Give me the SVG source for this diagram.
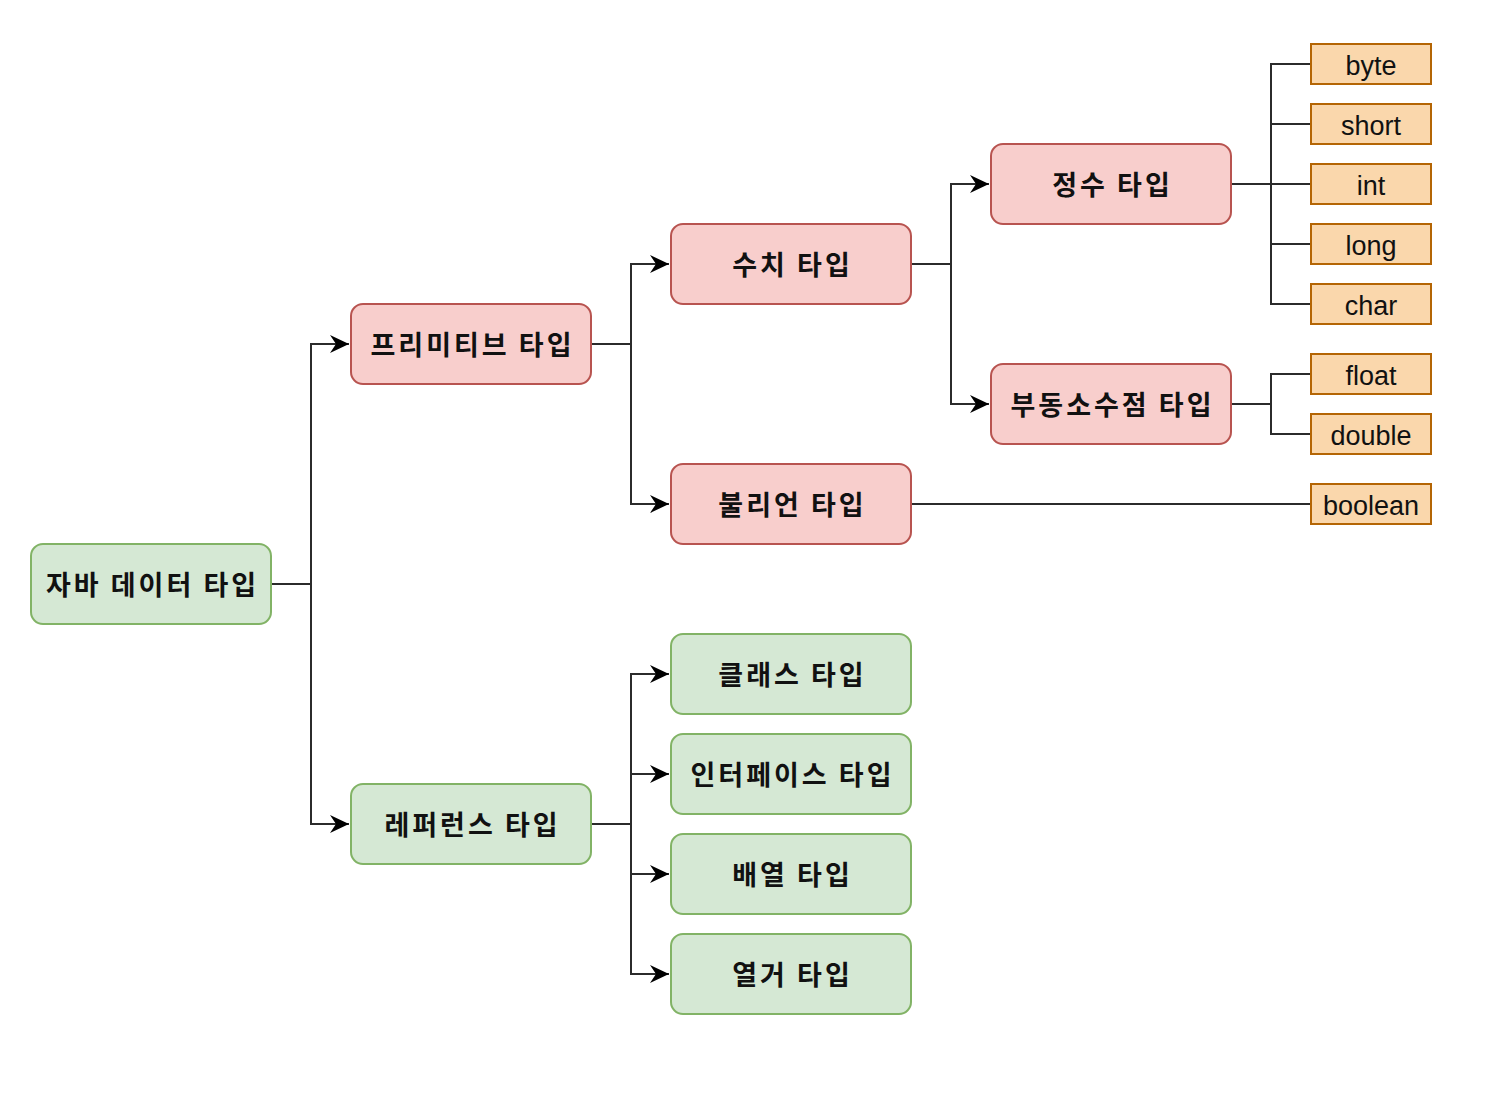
<svg xmlns="http://www.w3.org/2000/svg" width="1500" height="1110" viewBox="0 0 1500 1110">
<style>
.red{fill:#f8cecc;stroke:#b85450;stroke-width:2}
.green{fill:#d5e8d4;stroke:#82b366;stroke-width:2}
.orange{fill:#fad7ac;stroke:#b46504;stroke-width:2}
.kt{font-family:"Noto Sans CJK KR","Noto Sans",sans-serif;font-weight:bold;font-size:27px;letter-spacing:3px;fill:#111;text-anchor:middle;dominant-baseline:central}
.et{font-family:"Liberation Sans",Arial,sans-serif;font-size:27px;fill:#111;text-anchor:middle;dominant-baseline:central}
.edge{fill:none;stroke:#2b2b2b;stroke-width:2}
</style>
<defs>
<marker id="arr" markerUnits="userSpaceOnUse" markerWidth="22" markerHeight="22" viewBox="0 0 22 22" refX="20" refY="11" orient="auto">
<path d="M20 11 L1 2 L7 11 L1 20 Z" fill="#000"/>
</marker>
</defs>
<rect width="1500" height="1110" fill="#fff"/>
<g id="connectors">
<path class="edge" d="M271 584 H311 V344 H349" marker-end="url(#arr)"/>
<path class="edge" d="M311 584 V824 H349" marker-end="url(#arr)"/>
<path class="edge" d="M591 344 H631 V264 H669" marker-end="url(#arr)"/>
<path class="edge" d="M631 344 V504 H669" marker-end="url(#arr)"/>
<path class="edge" d="M911 264 H951 V184 H989" marker-end="url(#arr)"/>
<path class="edge" d="M951 264 V404 H989" marker-end="url(#arr)"/>
<path class="edge" d="M591 824 H631 V674 H669" marker-end="url(#arr)"/>
<path class="edge" d="M631 774 H669" marker-end="url(#arr)"/>
<path class="edge" d="M631 824 V874 H669" marker-end="url(#arr)"/>
<path class="edge" d="M631 874 V974 H669" marker-end="url(#arr)"/>
<path class="edge" d="M1231 184 H1311"/>
<path class="edge" d="M1311 64 H1271 V304 H1311"/>
<path class="edge" d="M1271 124 H1311"/>
<path class="edge" d="M1271 244 H1311"/>
<path class="edge" d="M1231 404 H1271"/>
<path class="edge" d="M1311 374 H1271 V434 H1311"/>
<path class="edge" d="M911 504 H1311"/>
</g>
<g id="n-root"><rect class="green" x="31" y="544" width="240" height="80" rx="12"/><text class="kt" x="152.5" y="583">자바 데이터 타입</text></g>
<g id="n-primitive"><rect class="red" x="351" y="304" width="240" height="80" rx="12"/><text class="kt" x="472.5" y="343">프리미티브 타입</text></g>
<g id="n-reference"><rect class="green" x="351" y="784" width="240" height="80" rx="12"/><text class="kt" x="472.5" y="823">레퍼런스 타입</text></g>
<g id="n-numeric"><rect class="red" x="671" y="224" width="240" height="80" rx="12"/><text class="kt" x="792.5" y="263">수치 타입</text></g>
<g id="n-boolean-type"><rect class="red" x="671" y="464" width="240" height="80" rx="12"/><text class="kt" x="792.5" y="503">불리언 타입</text></g>
<g id="n-integer"><rect class="red" x="991" y="144" width="240" height="80" rx="12"/><text class="kt" x="1112.5" y="183">정수 타입</text></g>
<g id="n-float-type"><rect class="red" x="991" y="364" width="240" height="80" rx="12"/><text class="kt" x="1112.5" y="403">부동소수점 타입</text></g>
<g id="n-class"><rect class="green" x="671" y="634" width="240" height="80" rx="12"/><text class="kt" x="792.5" y="673">클래스 타입</text></g>
<g id="n-interface"><rect class="green" x="671" y="734" width="240" height="80" rx="12"/><text class="kt" x="792.5" y="773">인터페이스 타입</text></g>
<g id="n-array"><rect class="green" x="671" y="834" width="240" height="80" rx="12"/><text class="kt" x="792.5" y="873">배열 타입</text></g>
<g id="n-enum"><rect class="green" x="671" y="934" width="240" height="80" rx="12"/><text class="kt" x="792.5" y="973">열거 타입</text></g>
<g id="n-byte"><rect class="orange" x="1311" y="44" width="120" height="40"/><text class="et" x="1371" y="65.5">byte</text></g>
<g id="n-short"><rect class="orange" x="1311" y="104" width="120" height="40"/><text class="et" x="1371" y="125.5">short</text></g>
<g id="n-int"><rect class="orange" x="1311" y="164" width="120" height="40"/><text class="et" x="1371" y="185.5">int</text></g>
<g id="n-long"><rect class="orange" x="1311" y="224" width="120" height="40"/><text class="et" x="1371" y="245.5">long</text></g>
<g id="n-char"><rect class="orange" x="1311" y="284" width="120" height="40"/><text class="et" x="1371" y="305.5">char</text></g>
<g id="n-float"><rect class="orange" x="1311" y="354" width="120" height="40"/><text class="et" x="1371" y="375.5">float</text></g>
<g id="n-double"><rect class="orange" x="1311" y="414" width="120" height="40"/><text class="et" x="1371" y="435.5">double</text></g>
<g id="n-boolean"><rect class="orange" x="1311" y="484" width="120" height="40"/><text class="et" x="1371" y="505.5">boolean</text></g>
</svg>
